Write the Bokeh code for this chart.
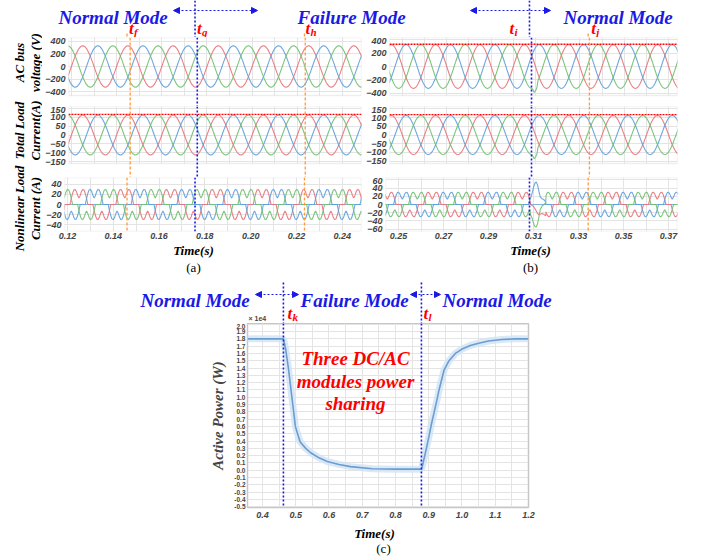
import numpy as np
from math import pi
from bokeh.plotting import figure
from bokeh.layouts import column, row
from bokeh.models import (Range1d, FixedTicker, Span, BoxAnnotation, Label, Arrow,
                          NormalHead, CustomJSTickFormatter, Title, Plot)
from bokeh.embed import file_html
from bokeh.resources import INLINE

# ------------------------------------------------------------------ data
F_HZ = 50.0
# one cycle of the 3-phase waveforms (10 degree steps)
SINE_SHAPE = [0.000, 0.174, 0.342, 0.500, 0.643, 0.766, 0.866, 0.940, 0.985,
              1.000, 0.985, 0.940, 0.866, 0.766, 0.643, 0.500, 0.342, 0.174,
              0.000, -0.174, -0.342, -0.500, -0.643, -0.766, -0.866, -0.940,
              -0.985, -1.000, -0.985, -0.940, -0.866, -0.766, -0.643, -0.500,
              -0.342, -0.174]
NL_SHAPE = [0, 0, 0, 12, 22, 29, 30, 26, 18, 13, 18, 26, 30, 29, 22, 12,
            0, 0, 0, 0, 0, -12, -22, -29, -30, -26, -18, -13, -18, -26, -30,
            -29, -22, -12, 0, 0]
PHASES = ["A", "B", "C"]
PHASE_SHIFT_SAMPLES = [0, -12, 12]
PHASE_COLORS = ["#e8727a", "#5e9fd9", "#6fbf6f"]
V_AMP = 325.0
I_AMP = 112.0
I_REF_LINE = 116.0
V_REF_LINE_B = 330.0

T_WIN_A = (0.1187, 0.2484)
T_WIN_B = (0.2442, 0.3740)
T_F, T_G, T_H = 0.1460, 0.1757, 0.2235
T_I, T_J = 0.3082, 0.3343
T_K, T_L = 0.463, 0.878

# transient at t_i (panel b)
TR_T = [0.3087, 0.3093, 0.3100, 0.3106, 0.3112, 0.3118, 0.3124, 0.3130,
        0.3138, 0.3146, 0.3154]
TR_NL = {"A": [0, -2, -5, -10, -16, -22, -25, -24, -22, -24, -28],
         "B": [16, 26, 42, 52, 55, 48, 32, 18, 14, 12, 6],
         "C": [-26, -32, -46, -54, -55, -47, -30, -12, -4, 0, 4]}
TR_V_T = [0.3088, 0.3094, 0.3100, 0.3106]
TR_V_C = [-335, -385, -360, -320]
TR_I_C = [-120, -136, -126, -112]

POWER_T = [0.355, 0.400, 0.463, 0.470, 0.478, 0.488, 0.499, 0.513, 0.530,
           0.545, 0.570, 0.595, 0.630, 0.665, 0.730, 0.800, 0.878, 0.882,
           0.886, 0.893, 0.901, 0.908, 0.916, 0.924, 0.931, 0.946, 0.961,
           0.980, 1.000, 1.025, 1.050, 1.080, 1.120, 1.160, 1.200]
POWER_W = [18000, 18000, 18000, 16500, 14000, 10200, 6000, 3900, 3000,
           2400, 1700, 1200, 800, 500, 200, 150, 150, 800, 1600, 3000, 4700,
           6300, 7900, 9500, 11000, 13700, 15000, 16000, 16600, 17100, 17400,
           17700, 17900, 18000, 18000]

X_TICKS_A = [0.12, 0.14, 0.16, 0.18, 0.20, 0.22, 0.24]
X_TICKS_B = [0.25, 0.27, 0.29, 0.31, 0.33, 0.35, 0.37]
X_GRID_A = [0.12, 0.13, 0.14, 0.15, 0.16, 0.17, 0.18, 0.19, 0.20, 0.21, 0.22, 0.23, 0.24]
X_GRID_B = [0.25, 0.26, 0.27, 0.28, 0.29, 0.30, 0.31, 0.32, 0.33, 0.34, 0.35, 0.36, 0.37]
V_TICKS = [-400, -200, 0, 200, 400]
I_TICKS = [-150, -100, -50, 0, 50, 100, 150]
NL_TICKS_A = [-40, -20, 0, 20, 40]
NL_TICKS_B = [-60, -40, -20, 0, 20, 40, 60]
P_X_TICKS = [0.4, 0.5, 0.6, 0.7, 0.8, 0.9, 1.0, 1.1, 1.2]
P_X_GRID = [0.40, 0.45, 0.50, 0.55, 0.60, 0.65, 0.70, 0.75, 0.80, 0.85,
            0.90, 0.95, 1.00, 1.05, 1.10, 1.15]
P_Y_TICKS = [-5000, -4000, -3000, -2000, -1000, 0, 1000, 2000, 3000, 4000,
             5000, 6000, 7000, 8000, 9000, 10000, 11000, 12000, 13000, 14000,
             15000, 16000, 17000, 18000, 19000, 20000]

# ------------------------------------------------------------------ style
SERIF = "Liberation Serif"
SANS = "Liberation Sans"
BLUE = "#1a1ae6"
RED = "#ff0000"
ORANGE = "#ff9a3c"
GRID = "#e4e4e4"
BOX = "#c6c6c6"
NOALIGN = {"frame_align": False} if "frame_align" in Plot.properties() else {}


def fig(**kw):
    kw.update(NOALIGN)
    return figure(output_backend="svg", toolbar_location=None, **kw)


def periodic(shape, amp, shift, t0, t1):
    n = len(shape)
    dt = 1.0 / (F_HZ * n)
    k = np.arange(int(np.floor(t0 / dt)), int(np.ceil(t1 / dt)) + 1)
    return k * dt, amp * np.asarray(shape, dtype=float)[(k + shift) % n]


def splice(t, y, tr_t, tr_y):
    keep = (t < tr_t[0] - 1e-5) | (t > tr_t[-1] + 1e-5)
    tt = np.concatenate([t[keep], tr_t])
    yy = np.concatenate([y[keep], tr_y])
    o = np.argsort(tt)
    return tt[o], yy[o]


def lab(p, x, y, text, size, color="black", style="bold italic", font=SERIF,
        align="left", baseline="alphabetic", angle=0.0, **kw):
    p.add_layout(Label(x=x, y=y, text=text, text_font=font,
                       text_font_size=f"{size}px", text_font_style=style,
                       text_color=color, text_align=align,
                       text_baseline=baseline, angle=angle, **kw))


def style_axis(ax, size="9px"):
    ax.axis_line_color = None
    ax.major_tick_line_color = None
    ax.minor_tick_line_color = None
    ax.major_tick_out = 0
    ax.major_tick_in = 0
    ax.major_label_text_font = SANS
    ax.major_label_text_font_style = "bold italic"
    ax.major_label_text_font_size = size
    ax.major_label_text_color = "#444444"


def blank(x0, x1, y0, y1):
    """Annotation canvas laid out in page pixels (y grows downward)."""
    p = fig(width=x1 - x0, height=y1 - y0, x_range=Range1d(x0, x1),
            y_range=Range1d(y1, y0), x_axis_location=None, y_axis_location=None,
            min_border=0)
    p.grid.visible = False
    p.outline_line_color = None
    return p


def make_panel(win, frame_l, frame_r, fig_l, fig_r, box_h, gap, lo, hi,
               yticks, xgrid, xticks=None, mbb=0):
    s = (hi - lo) / box_h
    p = fig(width=fig_r - fig_l, height=box_h + gap + mbb,
            x_range=Range1d(*win), y_range=Range1d(lo - gap * s, hi),
            x_axis_location=("below" if xticks else None),
            min_border_left=frame_l - fig_l, min_border_right=fig_r - frame_r,
            min_border_top=0, min_border_bottom=mbb)
    p.outline_line_color = None
    p.yaxis.ticker = FixedTicker(ticks=yticks)
    style_axis(p.yaxis[0])
    p.yaxis.major_label_standoff = 3
    p.xgrid.ticker = FixedTicker(ticks=xgrid)
    p.xgrid.grid_line_color = GRID
    p.ygrid.grid_line_color = GRID
    if xticks:
        p.xaxis.ticker = FixedTicker(ticks=xticks)
        p.xaxis.formatter = CustomJSTickFormatter(code="return tick.toFixed(2)")
        style_axis(p.xaxis[0])
        p.xaxis.major_label_standoff = 1
    if gap:
        p.add_layout(BoxAnnotation(top=lo, fill_color="white", fill_alpha=1.0,
                                   line_color=None))
    p.add_layout(BoxAnnotation(bottom=lo, top=hi, fill_color=None,
                               line_color=BOX, line_width=1.5))
    return p


def add_events(p, blues, oranges):
    for t in blues:
        p.add_layout(Span(location=t, dimension="height", line_color=BLUE,
                          line_dash="2 2", line_width=1.6, level="overlay"))
    for t in oranges:
        p.add_layout(Span(location=t, dimension="height", line_color=ORANGE,
                          line_dash="3 2", line_width=1.3, level="overlay"))


def red_ref(p, level):
    p.add_layout(Span(location=level, dimension="width", line_color=RED,
                      line_dash="2 1", line_width=1.3, level="overlay"))


def arrow(p, xs, xe, y):
    p.add_layout(Arrow(start=NormalHead(size=6, line_color=BLUE, fill_color=BLUE),
                       end=NormalHead(size=6, line_color=BLUE, fill_color=BLUE),
                       x_start=xs, y_start=y, x_end=xe, y_end=y,
                       line_color=BLUE, line_width=1.2, line_dash="2 2"))


# ------------------------------------------------------------------ layout (page px)
PAGE_W, PAGE_H = 702, 558
STRIP_R, SPLIT = 42, 363
A_L, A_R = 64, 361
B_L, B_R = 385, 677
C_L, C_R = 247, 528
C_WIN = (0.355, 1.200)
HDR_B = 37             # bottom of top header
ROW_B = 243            # bottom of (a)/(b) row
CAP_B = 259            # bottom of the "Time(s)" caption strip
HC_B = 323             # bottom of (c) header / top of (c) frame
PC_FB = 507            # bottom of (c) frame
PC_B = 524


def page_range(win, f_l, f_r, left, right):
    s = (win[1] - win[0]) / (f_r - f_l)
    return Range1d(win[0] - (f_l - left) * s, win[1] + (right - f_r) * s)


def page_x(win, f_l, f_r, t):
    """Page pixel of time t on a panel frame (for placing annotation text)."""
    return f_l + (t - win[0]) * (f_r - f_l) / (win[1] - win[0])


def draw_phases(p, build):
    for ph, sh, col in zip(PHASES, PHASE_SHIFT_SAMPLES, PHASE_COLORS):
        t, y = build(ph, sh)
        p.line(t, y, line_color=col, line_width=1.1, line_alpha=0.9)


def t_label(p, px, base, sub):
    lab(p, px, base, "t", 17, RED)
    lab(p, px + 5, base + 3, sub, 11, RED)


# ---------------- left label strip
strip = blank(0, STRIP_R, 0, CAP_B)
for txt, cy in [("AC bus\nvoltage (V)", 62), ("Total Load\nCurrent(A)", 130),
                ("Nonlinear Load\nCurrent (A)", 208)]:
    lab(strip, 27, cy, txt, 13, "black", align="center", baseline="middle",
        angle=pi / 2, text_line_height=1.05)

# ---------------- header (a)/(b)
hdr = blank(STRIP_R, PAGE_W, 0, HDR_B)
hdr.extra_x_ranges = {"ta": page_range(T_WIN_A, A_L, A_R, STRIP_R, PAGE_W),
                      "tb": page_range(T_WIN_B, B_L, B_R, STRIP_R, PAGE_W)}
for t, rn in [(T_G, "ta"), (T_I, "tb")]:
    hdr.add_layout(Span(location=t, dimension="height", x_range_name=rn,
                        line_color=BLUE, line_dash="2 2", line_width=1.6))
hdr.segment(x0=[T_F, T_H], y0=[33, 33], x1=[T_F, T_H], y1=[HDR_B, HDR_B],
            x_range_name="ta", line_color=ORANGE, line_dash="3 2", line_width=1.3)
hdr.segment(x0=[T_J], y0=[33], x1=[T_J], y1=[HDR_B], x_range_name="tb",
            line_color=ORANGE, line_dash="3 2", line_width=1.3)
lab(hdr, 58, 17, "Normal Mode", 19, BLUE)
lab(hdr, 297, 17, "Failure Mode", 19, BLUE)
lab(hdr, 563, 17, "Normal Mode", 19, BLUE)
arrow(hdr, 173, 257, 10)
arrow(hdr, 470, 550, 10)
for t, off, sub in [(T_F, 2, "f"), (T_G, 2, "g"), (T_H, 1, "h")]:
    t_label(hdr, page_x(T_WIN_A, A_L, A_R, t) + off, 28, sub)
for t, off, sub in [(T_I, -20, "i"), (T_J, 3, "j")]:
    t_label(hdr, page_x(T_WIN_B, B_L, B_R, t) + off, 28, sub)

# ---------------- panel rows
VOLT_H, VOLT_GAP = 58, 11
CUR_H, CUR_GAP = 57, 14
NL_H, NL_MBB = 54, 12

cols = []
for side in ["a", "b"]:
    if side == "a":
        win, fl, fr, gl, gr = T_WIN_A, A_L, A_R, STRIP_R, SPLIT
        vlim, ilim, nlim, nticks = 455, 160, 53.7, NL_TICKS_A
        xt, xg = X_TICKS_A, X_GRID_A
        blues, oranges = [T_G], [T_F, T_H]
    else:
        win, fl, fr, gl, gr = T_WIN_B, B_L, B_R, SPLIT, PAGE_W
        vlim, ilim, nlim, nticks = 430, 163, 66, NL_TICKS_B
        xt, xg = X_TICKS_B, X_GRID_B
        blues, oranges = [T_I], [T_J]

    pv = make_panel(win, fl, fr, gl, gr, VOLT_H, VOLT_GAP, -vlim, vlim, V_TICKS, xg)
    pi_ = make_panel(win, fl, fr, gl, gr, CUR_H, CUR_GAP, -ilim, ilim, I_TICKS, xg)
    pn = make_panel(win, fl, fr, gl, gr, NL_H, 0, -nlim, nlim, nticks, xg,
                    xticks=xt, mbb=NL_MBB)

    def bv(ph, sh, win=win, side=side):
        t, y = periodic(SINE_SHAPE, V_AMP, sh, *win)
        if side == "b" and ph == "C":
            t, y = splice(t, y, TR_V_T, TR_V_C)
        return t, y

    def bi(ph, sh, win=win, side=side):
        t, y = periodic(SINE_SHAPE, I_AMP, sh, *win)
        if side == "b" and ph == "C":
            t, y = splice(t, y, TR_V_T, TR_I_C)
        return t, y

    def bn(ph, sh, win=win, side=side):
        t, y = periodic(NL_SHAPE, 1.0, sh, *win)
        if side == "b":
            t, y = splice(t, y, TR_T, TR_NL[ph])
        return t, y

    draw_phases(pv, bv)
    draw_phases(pi_, bi)
    draw_phases(pn, bn)
    pn.add_layout(Span(location=0, dimension="width", line_color="#7fb3e0",
                       line_width=1.0, level="underlay"))
    if side == "b":
        red_ref(pv, V_REF_LINE_B)
    red_ref(pi_, I_REF_LINE)
    for p in (pv, pi_, pn):
        add_events(p, blues, oranges)
    cols.append(column(pv, pi_, pn))

# ---------------- "Time(s)" captions under (a)/(b)
cap = blank(STRIP_R, PAGE_W, ROW_B, CAP_B)
for cx in (193, 530):
    lab(cap, cx, 250, "Time(s)", 13, align="center", baseline="middle")

# ---------------- (a)/(b) letters + header (c)
hdc = blank(0, PAGE_W, CAP_B, HC_B)
hdc.extra_x_ranges = {"tc": page_range(C_WIN, C_L, C_R, 0, PAGE_W)}
for cx, letter in [(193, "(a)"), (530, "(b)")]:
    lab(hdc, cx, 267, letter, 13, style="normal", align="center", baseline="middle")
hdc.segment(x0=[T_K, T_L], y0=[282, 282], x1=[T_K, T_L], y1=[HC_B, HC_B],
            x_range_name="tc", line_color=BLUE, line_dash="2 2", line_width=1.6)
lab(hdc, 140, 300, "Normal Mode", 19, BLUE)
lab(hdc, 300, 300, "Failure Mode", 19, BLUE)
lab(hdc, 442, 300, "Normal Mode", 19, BLUE)
arrow(hdc, 255, 298, 294)
arrow(hdc, 410, 440, 294)
for t, off, sub in [(T_K, 4, "k"), (T_L, 2, "l")]:
    t_label(hdc, page_x(C_WIN, C_L, C_R, t) + off, 313, sub)
lab(hdc, 248, 318, "\u00d7 1e4", 7, "#444444", style="bold", font=SANS,
    baseline="middle")

# ---------------- panel (c)
pc = fig(width=PAGE_W, height=PC_B - HC_B,
         x_range=Range1d(*C_WIN), y_range=Range1d(-5100, 20100),
         min_border_left=C_L, min_border_right=PAGE_W - C_R,
         min_border_top=0, min_border_bottom=PC_B - PC_FB)
pc.outline_line_color = BOX
pc.outline_line_width = 1.5
pc.xaxis.ticker = FixedTicker(ticks=P_X_TICKS)
pc.xaxis.formatter = CustomJSTickFormatter(code="return tick.toFixed(1)")
style_axis(pc.xaxis[0], "9px")
pc.xaxis.major_label_standoff = 4
pc.yaxis.ticker = FixedTicker(ticks=P_Y_TICKS)
pc.yaxis.formatter = CustomJSTickFormatter(code="return (tick/1e4).toFixed(1)")
style_axis(pc.yaxis[0], "6.5px")
pc.yaxis.major_label_text_font_style = "bold"
pc.yaxis.major_label_standoff = 2
pc.xgrid.ticker = FixedTicker(ticks=P_X_GRID)
pc.xgrid.grid_line_color = GRID
pc.ygrid.grid_line_color = GRID
pc.add_layout(Title(text="Active Power (W)", align="center", text_font=SERIF,
                    text_font_style="bold italic", text_font_size="15px",
                    standoff=12), "left")
pc.line(POWER_T, POWER_W, line_color="#cfe3f5", line_width=7, line_alpha=0.8)
pc.line(POWER_T, POWER_W, line_color="#6d9ccf", line_width=1.6)
add_events(pc, [T_K, T_L], [])

s_c = (pc.y_range.end - pc.y_range.start) / (PC_FB - HC_B)
s_x = (C_WIN[1] - C_WIN[0]) / (C_R - C_L)
cx_t = C_WIN[0] + (355 - C_L) * s_x
for txt, py in [("Three DC/AC", 358), ("modules power", 381), ("sharing", 403)]:
    lab(pc, cx_t, pc.y_range.end - (py - HC_B) * s_c, txt, 19, RED,
        align="center", baseline="middle")

# ---------------- bottom caption
bot = blank(0, PAGE_W, PC_B, PAGE_H)
lab(bot, 374, 533, "Time(s)", 13, align="center", baseline="middle")
lab(bot, 383, 548, "(c)", 13, style="normal", align="center", baseline="middle")

top = row(strip, column(hdr, row(cols[0], cols[1]), cap))
layout = column(top, row(hdc), row(pc), row(bot))
open("out.html", "w").write(file_html(layout, INLINE))
